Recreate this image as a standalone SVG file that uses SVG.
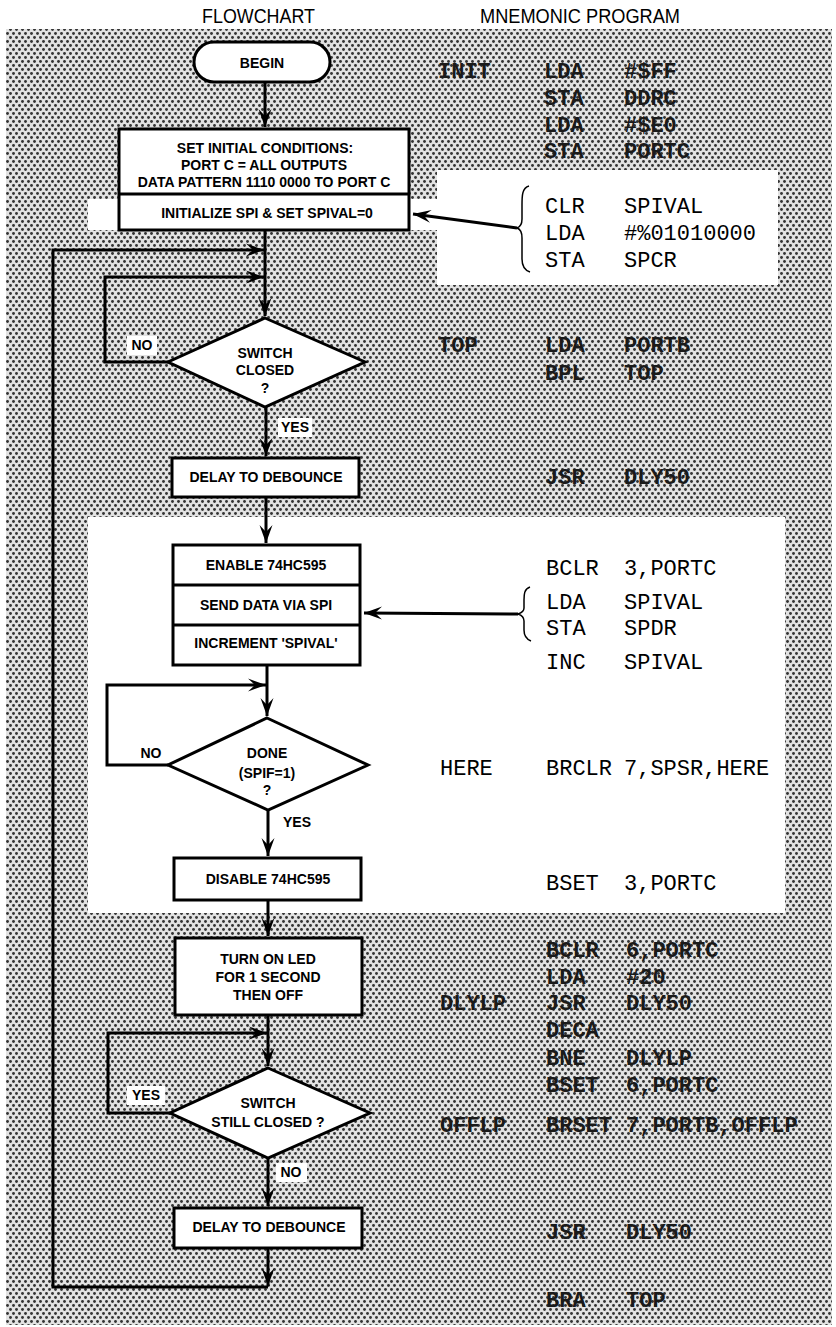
<svg xmlns="http://www.w3.org/2000/svg" width="836" height="1327" viewBox="0 0 836 1327">
<defs>
<pattern id="dots" patternUnits="userSpaceOnUse" width="6" height="8">
<rect width="6" height="8" fill="#e2e2e2"/>
<circle cx="1.5" cy="1.5" r="1.45" fill="#333"/>
<circle cx="4.5" cy="5.5" r="1.45" fill="#333"/>
</pattern>
<marker id="ah" markerUnits="userSpaceOnUse" markerWidth="20" markerHeight="14" viewBox="-18 -7 19 14" refX="0" refY="0" orient="auto" overflow="visible">
<path d="M0,0 L-18,-6.5 L-11,0 L-18,6.5 Z" fill="#000"/>
</marker>
</defs>
<style>
.box{fill:#fff;stroke:#000;stroke-width:3}
.ln{fill:none;stroke:#000;stroke-width:3}
.br{fill:none;stroke:#000;stroke-width:1.5}
.ft{font-family:"Liberation Sans",Arial,sans-serif;font-weight:bold;font-size:14px;text-anchor:middle;fill:#000}
.tt{font-family:"Liberation Sans",Arial,sans-serif;font-size:21px;fill:#000}
.mg{font-family:"Liberation Mono","Courier New",monospace;font-weight:bold;font-size:22px;fill:#1a1a1a}
.mw{font-family:"Liberation Mono","Courier New",monospace;font-size:22px;fill:#000}
.lb{fill:#fff}
</style>
<rect width="836" height="1327" fill="#fff"/>
<rect x="6" y="29" width="826" height="1296" fill="url(#dots)"/>
<rect x="437" y="170" width="341" height="115" fill="#fff"/>
<rect x="88" y="199" width="350" height="31" fill="#fff"/>
<rect x="88" y="517" width="697" height="396" fill="#fff"/>

<text class="tt" x="202" y="23" textLength="113" lengthAdjust="spacingAndGlyphs">FLOWCHART</text>
<text class="tt" x="480" y="23" textLength="200" lengthAdjust="spacingAndGlyphs">MNEMONIC PROGRAM</text>

<g id="connectors">
<path class="ln" d="M265,82 V127" marker-end="url(#ah)"/>
<path class="ln" d="M265,230 V316" marker-end="url(#ah)"/>
<path class="ln" d="M268,1287 H53 V250 H264" marker-end="url(#ah)"/>
<path class="ln" d="M168,362 H105 V277 H264" marker-end="url(#ah)"/>
<path class="ln" d="M266,407 V456" marker-end="url(#ah)"/>
<path class="ln" d="M266,497 V543" marker-end="url(#ah)"/>
<path class="ln" d="M267,665 V716" marker-end="url(#ah)"/>
<path class="ln" d="M168,765 H107 V685 H266" marker-end="url(#ah)"/>
<path class="ln" d="M268,810 V856" marker-end="url(#ah)"/>
<path class="ln" d="M268,900 V936" marker-end="url(#ah)"/>
<path class="ln" d="M268,1015 V1066" marker-end="url(#ah)"/>
<path class="ln" d="M170,1113 H108 V1033 H267" marker-end="url(#ah)"/>
<path class="ln" d="M268,1158 V1206" marker-end="url(#ah)"/>
<path class="ln" d="M268,1248 V1286" marker-end="url(#ah)"/>
<path class="ln" stroke-width="2" d="M517,228 L413,214" marker-end="url(#ah)"/>
<path class="ln" stroke-width="2" d="M518,614 L364,613" marker-end="url(#ah)"/>
<path class="br" d="M529,186 C522,188 522,196 522,205 L522,219 C522,224 520,227 517,228 C520,229 522,232 522,238 L522,259 C522,266 524,270 530,272"/>
<path class="br" d="M530,587 C524,589 524,595 524,600 L524,608 C524,611 521,613 518,614 C521,615 524,617 524,621 L524,630 C524,635 526,639 531,641"/>
</g>

<g id="begin">
<rect class="box" x="194" y="42" width="136" height="40" rx="20" ry="20"/>
<text class="ft" x="262" y="68">BEGIN</text>
</g>
<g id="init">
<rect class="box" x="119" y="129" width="290" height="101"/>
<line class="ln" x1="119" y1="194" x2="409" y2="194"/>
<text class="ft" x="265" y="153">SET INITIAL CONDITIONS:</text>
<text class="ft" x="264" y="170">PORT C = ALL OUTPUTS</text>
<text class="ft" x="264" y="187">DATA PATTERN 1110 0000 TO PORT C</text>
<text class="ft" x="267" y="218">INITIALIZE SPI &amp; SET SPIVAL=0</text>
</g>
<g id="switch1">
<polygon class="box" points="265,318 365,362 265,407 168,362"/>
<text class="ft" x="265" y="358">SWITCH</text>
<text class="ft" x="265" y="375">CLOSED</text>
<text class="ft" x="265" y="393">?</text>
<rect class="lb" x="127" y="336" width="30" height="19"/>
<text class="ft" x="142" y="350">NO</text>
<rect class="lb" x="278" y="418" width="34" height="19"/>
<text class="ft" x="295" y="432">YES</text>
</g>
<g id="delay1">
<rect class="box" x="172" y="458" width="187" height="39"/>
<text class="ft" x="266" y="482">DELAY TO DEBOUNCE</text>
</g>
<g id="spi">
<rect class="box" x="173" y="545" width="187" height="120"/>
<line class="ln" x1="173" y1="585" x2="360" y2="585"/>
<line class="ln" x1="173" y1="625" x2="360" y2="625"/>
<text class="ft" x="266" y="570">ENABLE 74HC595</text>
<text class="ft" x="266" y="610">SEND DATA VIA SPI</text>
<text class="ft" x="266" y="648">INCREMENT 'SPIVAL'</text>
</g>
<g id="done">
<polygon class="box" points="267,718 368,765 268,810 168,765"/>
<text class="ft" x="267" y="758">DONE</text>
<text class="ft" x="267" y="778">(SPIF=1)</text>
<text class="ft" x="267" y="795">?</text>
<text class="ft" x="151" y="758">NO</text>
<text class="ft" x="297" y="827">YES</text>
</g>
<g id="disable">
<rect class="box" x="174" y="858" width="187" height="42"/>
<text class="ft" x="268" y="884">DISABLE 74HC595</text>
</g>
<g id="led">
<rect class="box" x="175" y="938" width="187" height="77"/>
<text class="ft" x="268" y="964">TURN ON LED</text>
<text class="ft" x="268" y="982">FOR 1 SECOND</text>
<text class="ft" x="268" y="1000">THEN OFF</text>
</g>
<g id="switch2">
<polygon class="box" points="268,1068 370,1113 268,1158 170,1113"/>
<text class="ft" x="268" y="1108">SWITCH</text>
<text class="ft" x="268" y="1127">STILL CLOSED ?</text>
<rect class="lb" x="127" y="1086" width="38" height="19"/>
<text class="ft" x="146" y="1100">YES</text>
<rect class="lb" x="276" y="1163" width="31" height="19"/>
<text class="ft" x="291" y="1177">NO</text>
</g>
<g id="delay2">
<rect class="box" x="174" y="1208" width="188" height="40"/>
<text class="ft" x="269" y="1232">DELAY TO DEBOUNCE</text>
</g>

<g id="program">
<text class="mg" x="438" y="78">INIT</text><text class="mg" x="544" y="78">LDA</text><text class="mg" x="624" y="78">#$FF</text>
<text class="mg" x="544" y="105">STA</text><text class="mg" x="624" y="105">DDRC</text>
<text class="mg" x="544" y="132">LDA</text><text class="mg" x="624" y="132">#$E0</text>
<text class="mg" x="544" y="158">STA</text><text class="mg" x="624" y="158">PORTC</text>
<text class="mw" x="545" y="213">CLR</text><text class="mw" x="624" y="213">SPIVAL</text>
<text class="mw" x="545" y="240">LDA</text><text class="mw" x="624" y="240">#%01010000</text>
<text class="mw" x="545" y="267">STA</text><text class="mw" x="624" y="267">SPCR</text>
<text class="mg" x="438" y="352">TOP</text><text class="mg" x="545" y="352">LDA</text><text class="mg" x="624" y="352">PORTB</text>
<text class="mg" x="545" y="380">BPL</text><text class="mg" x="624" y="380">TOP</text>
<text class="mg" x="545" y="484">JSR</text><text class="mg" x="624" y="484">DLY50</text>
<text class="mw" x="546" y="575">BCLR</text><text class="mw" x="624" y="575">3,PORTC</text>
<text class="mw" x="546" y="609">LDA</text><text class="mw" x="624" y="609">SPIVAL</text>
<text class="mw" x="546" y="635">STA</text><text class="mw" x="624" y="635">SPDR</text>
<text class="mw" x="546" y="669">INC</text><text class="mw" x="624" y="669">SPIVAL</text>
<text class="mw" x="440" y="775">HERE</text><text class="mw" x="546" y="775">BRCLR</text><text class="mw" x="624" y="775">7,SPSR,HERE</text>
<text class="mw" x="546" y="890">BSET</text><text class="mw" x="624" y="890">3,PORTC</text>
<text class="mg" x="546" y="957">BCLR</text><text class="mg" x="626" y="957">6,PORTC</text>
<text class="mg" x="546" y="984">LDA</text><text class="mg" x="626" y="984">#20</text>
<text class="mg" x="440" y="1010">DLYLP</text><text class="mg" x="546" y="1010">JSR</text><text class="mg" x="626" y="1010">DLY50</text>
<text class="mg" x="546" y="1037">DECA</text>
<text class="mg" x="546" y="1065">BNE</text><text class="mg" x="626" y="1065">DLYLP</text>
<text class="mg" x="546" y="1092">BSET</text><text class="mg" x="626" y="1092">6,PORTC</text>
<text class="mg" x="440" y="1132">OFFLP</text><text class="mg" x="546" y="1132">BRSET</text><text class="mg" x="626" y="1132">7,PORTB,OFFLP</text>
<text class="mg" x="546" y="1239">JSR</text><text class="mg" x="626" y="1239">DLY50</text>
<text class="mg" x="546" y="1307">BRA</text><text class="mg" x="626" y="1307">TOP</text>
</g>
</svg>
